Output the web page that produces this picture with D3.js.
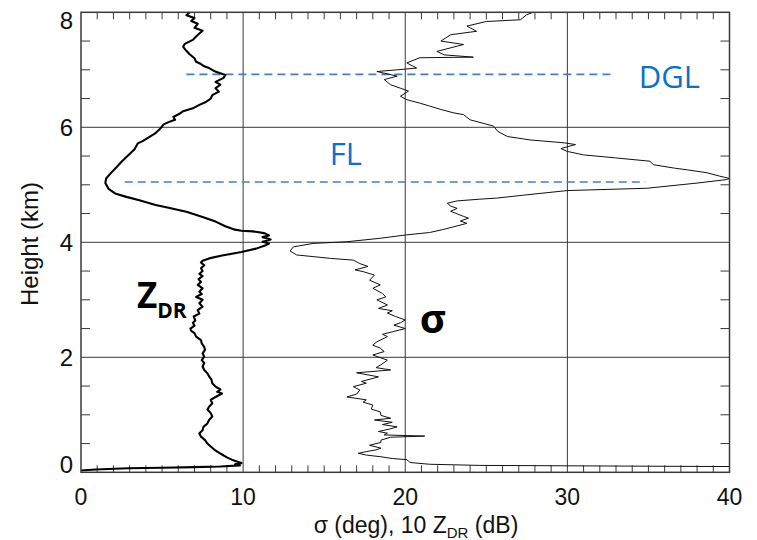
<!DOCTYPE html>
<html><head><meta charset="utf-8">
<script src="https://cdn.jsdelivr.net/npm/d3@7"></script>
<style>body{margin:0;background:#fff}</style>
</head><body>
<script>
// ---- data ----
const xTicks = [0, 10, 20, 30, 40];
const yTicks = [0, 2, 4, 6, 8];
// ZDR profile: [10*ZDR (dB), height (km)]
const zdrPoints = [
[0.0,0.03],[0.9,0.05],[2.9,0.07],[5.0,0.08],[7.0,0.09],[8.6,0.10],[9.8,0.12],[9.5,0.14],[9.9,0.16],[9.7,0.18],
[9.3,0.22],[9.0,0.26],[8.7,0.31],[8.4,0.36],[8.2,0.40],[8.0,0.45],[7.8,0.50],[7.65,0.56],[7.4,0.62],[7.3,0.68],
[7.5,0.73],[7.55,0.79],[7.8,0.85],[7.9,0.91],[8.1,0.97],[8.0,1.03],[7.8,1.09],[7.9,1.14],[8.1,1.20],[8.0,1.26],
[8.3,1.31],[8.7,1.37],[8.4,1.40],[8.6,1.44],[8.3,1.49],[8.1,1.55],[8.05,1.61],[7.9,1.67],[7.8,1.72],[7.6,1.78],
[7.5,1.84],[7.6,1.90],[7.45,1.95],[7.6,2.01],[7.5,2.07],[7.65,2.13],[7.6,2.18],[7.45,2.24],[7.4,2.30],[7.1,2.36],
[7.0,2.42],[6.8,2.46],[6.75,2.50],[7.0,2.55],[6.9,2.60],[7.05,2.64],[6.95,2.71],[7.3,2.76],[7.2,2.82],[7.5,2.88],
[7.3,2.94],[7.5,3.00],[7.1,3.05],[7.45,3.10],[7.3,3.14],[7.5,3.20],[7.2,3.26],[7.4,3.31],[7.25,3.36],[7.5,3.41],
[7.3,3.45],[7.5,3.50],[7.4,3.55],[7.6,3.60],[7.4,3.65],[7.5,3.68],[7.9,3.72],[8.7,3.77],[9.9,3.83],[10.8,3.89],
[11.4,3.95],[11.6,3.98],[11.2,4.01],[11.7,4.05],[11.2,4.09],[11.6,4.12],[11.3,4.16],[10.6,4.19],[9.9,4.20],[9.5,4.22],
[8.9,4.28],[8.3,4.36],[7.5,4.44],[6.5,4.53],[5.4,4.60],[4.6,4.65],[3.6,4.73],[2.8,4.79],[2.1,4.85],[1.7,4.93],
[1.5,5.03],[1.55,5.11],[1.8,5.19],[2.1,5.28],[2.5,5.40],[2.9,5.51],[3.3,5.62],[3.5,5.72],[3.8,5.76],[4.2,5.83],
[4.6,5.90],[4.9,5.98],[5.1,6.05],[5.4,6.09],[5.8,6.13],[5.7,6.18],[6.1,6.24],[6.3,6.28],[6.9,6.33],[7.3,6.39],
[7.7,6.44],[8.0,6.50],[8.1,6.56],[8.5,6.62],[8.3,6.68],[8.6,6.74],[8.3,6.79],[8.8,6.86],[8.9,6.91],[8.5,6.95],
[8.2,6.98],[7.9,7.03],[7.6,7.06],[7.4,7.10],[7.1,7.14],[7.0,7.20],[6.7,7.27],[6.5,7.33],[6.3,7.40],[6.4,7.45],
[6.9,7.52],[7.1,7.58],[7.3,7.63],[7.5,7.68],[7.0,7.73],[7.2,7.80],[6.8,7.85],[7.0,7.90],[6.5,7.95],[6.7,8.0]
];
// sigma profile: [sigma (deg), height (km)]
const sigmaPoints = [
[40,0.10],[32,0.11],[24.6,0.12],[21.5,0.14],[20.3,0.17],[20.1,0.22],[19.2,0.24],[18.5,0.27],[17.6,0.30],[17.1,0.33],
[17.6,0.36],[18.2,0.39],[18.5,0.42],[17.8,0.47],[18.5,0.52],[18.5,0.56],[19.1,0.61],[21.2,0.63],[18.7,0.65],[18.9,0.68],
[18.35,0.71],[19.0,0.75],[19.5,0.79],[18.6,0.83],[19.2,0.87],[18.1,0.91],[19.1,0.94],[18.5,0.99],[18.46,1.05],[17.9,1.10],
[18.0,1.17],[17.4,1.22],[17.6,1.26],[16.4,1.31],[17.0,1.36],[17.2,1.43],[16.8,1.49],[17.6,1.55],[17.3,1.58],[18.35,1.66],
[17.0,1.73],[19.1,1.78],[18.2,1.82],[18.5,1.87],[18.9,1.95],[18.0,2.04],[18.7,2.10],[18.46,2.16],[18.0,2.21],[18.25,2.27],
[18.9,2.36],[18.6,2.40],[19.3,2.45],[20.0,2.50],[19.3,2.56],[19.7,2.60],[20.0,2.65],[19.4,2.71],[18.9,2.77],[19.2,2.81],
[18.35,2.85],[18.9,2.91],[18.25,3.00],[18.8,3.05],[18.6,3.11],[18.0,3.20],[18.46,3.26],[17.8,3.34],[18.1,3.43],[17.4,3.49],
[16.9,3.52],[17.7,3.58],[17.2,3.63],[16.8,3.69],[15.4,3.72],[13.3,3.78],[12.9,3.85],[13.1,3.92],[14.3,3.98],[16.4,4.01],
[18.46,4.07],[20.1,4.13],[21.5,4.17],[22.3,4.22],[23.0,4.27],[23.8,4.33],[23.4,4.37],[23.9,4.42],[23.6,4.45],[22.8,4.54],
[23.2,4.59],[22.8,4.63],[22.6,4.68],[23.2,4.72],[24.6,4.75],[25.7,4.77],[27.3,4.82],[30.0,4.90],[34.9,4.94],[38.0,5.03],
[39.8,5.09],[40,5.11],[39.4,5.15],[38.6,5.21],[37.4,5.26],[36.6,5.29],[35.3,5.35],[35.1,5.41],[32.9,5.47],[31.0,5.52],
[30.0,5.58],[29.6,5.63],[30.5,5.70],[29.8,5.73],[27.7,5.78],[26.3,5.84],[25.7,5.93],[25.45,6.02],[24.8,6.07],[24.0,6.13],
[23.6,6.22],[23.0,6.25],[22.2,6.31],[21.5,6.37],[20.9,6.42],[20.1,6.48],[19.7,6.54],[20.2,6.63],[19.7,6.68],[19.1,6.74],
[18.7,6.83],[19.5,6.89],[18.25,6.97],[19.5,7.00],[20.7,7.03],[20.1,7.12],[20.9,7.21],[24.2,7.22],[22.4,7.26],[21.95,7.32],
[23.6,7.44],[22.2,7.50],[22.8,7.61],[24.4,7.67],[23.8,7.76],[25.0,7.84],[27.1,7.87],[27.5,7.96],[27.9,8.0]
];
// reference levels
const levelNames = ["DGL", "FL"];
const levelHeights = [6.92, 5.05];
const levelStart = [6.5, 2.7];
const levelEnd = [32.8, 34.8];

// ---- layout ----
const W = 757, H = 540;
const svg = d3.select("body").append("svg").attr("width", W).attr("height", H);
svg.append("rect").attr("width", W).attr("height", H).attr("fill", "#fff");
const x = d3.scaleLinear().domain([0, 40]).range([81, 729.5]);
const y = d3.scaleLinear().domain([0, 8]).range([472.3, 12.3]);
const axisColor = "#3a3a3a";

// gridlines at major ticks
const g = svg.append("g");
g.selectAll(".gx").data(xTicks.slice(1, -1)).join("line")
  .attr("x1", d => x(d)).attr("x2", d => x(d)).attr("y1", y(0)).attr("y2", y(8))
  .attr("stroke", axisColor).attr("stroke-width", 1);
g.selectAll(".gy").data(yTicks.slice(1, -1)).join("line")
  .attr("y1", d => y(d)).attr("y2", d => y(d)).attr("x1", x(0)).attr("x2", x(40))
  .attr("stroke", axisColor).attr("stroke-width", 1);

// minor ticks
const xMinor = d3.range(1, 40).filter(v => v % 10 !== 0);
const yMinor = d3.range(0.5, 8, 0.5).filter(v => v % 2 !== 0);
g.selectAll(".tb").data(xMinor).join("line")
  .attr("x1", d => x(d)).attr("x2", d => x(d)).attr("y1", y(0)).attr("y2", y(0) - 7)
  .attr("stroke", axisColor).attr("stroke-width", 1);
g.selectAll(".tt").data(xMinor).join("line")
  .attr("x1", d => x(d)).attr("x2", d => x(d)).attr("y1", y(8)).attr("y2", y(8) + 7)
  .attr("stroke", axisColor).attr("stroke-width", 1);
g.selectAll(".tl").data(yMinor).join("line")
  .attr("y1", d => y(d)).attr("y2", d => y(d)).attr("x1", x(0)).attr("x2", x(0) + 9)
  .attr("stroke", axisColor).attr("stroke-width", 1);
g.selectAll(".tr").data(yMinor).join("line")
  .attr("y1", d => y(d)).attr("y2", d => y(d)).attr("x1", x(40)).attr("x2", x(40) - 9)
  .attr("stroke", axisColor).attr("stroke-width", 1);

// dashed reference lines
g.selectAll(".lev").data(levelHeights).join("line")
  .attr("x1", (d, i) => x(levelStart[i])).attr("x2", (d, i) => x(levelEnd[i]))
  .attr("y1", d => y(d)).attr("y2", d => y(d))
  .attr("stroke", "#4a7cc7").attr("stroke-width", 1.6).attr("stroke-dasharray", "8,5");

// profiles
const line = d3.line().x(d => x(d[0])).y(d => y(d[1]));
svg.append("path").datum(sigmaPoints).attr("d", line)
  .attr("fill", "none").attr("stroke", "#111").attr("stroke-width", 1);
svg.append("path").datum(zdrPoints).attr("d", line)
  .attr("fill", "none").attr("stroke", "#000").attr("stroke-width", 2.1).attr("stroke-linejoin", "round");

// frame
svg.append("rect").attr("x", x(0)).attr("y", y(8)).attr("width", x(40) - x(0)).attr("height", y(0) - y(8))
  .attr("fill", "none").attr("stroke", axisColor).attr("stroke-width", 1.5);

// tick labels
const tickFont = "'Liberation Sans', Arial, Helvetica, sans-serif";
svg.selectAll(".xl").data(xTicks).join("text")
  .attr("x", d => x(d)).attr("y", 505).attr("text-anchor", "middle")
  .attr("font-family", tickFont).attr("font-size", 23).attr("fill", "#111").text(d => d);
svg.selectAll(".yl").data(yTicks).join("text")
  .attr("x", 73).attr("y", d => y(d) + 9 + (d === 8 ? 8 : 0) - (d === 0 ? 8 : 0)).attr("text-anchor", "end")
  .attr("font-family", tickFont).attr("font-size", 24).attr("fill", "#111").text(d => d);

// axis titles
const xt = svg.append("text").attr("x", 416).attr("y", 533).attr("text-anchor", "middle")
  .attr("font-family", tickFont).attr("font-size", 23).attr("fill", "#111");
xt.append("tspan").text("σ (deg), 10 Z");
xt.append("tspan").attr("font-size", 15).attr("dy", 5).text("DR");
xt.append("tspan").attr("dy", -5).text(" (dB)");
svg.append("text").attr("transform", "translate(38,244) rotate(-90)").attr("text-anchor", "middle")
  .attr("font-family", tickFont).attr("font-size", 24).attr("fill", "#111").text("Height (km)");

// annotations
const annFont = "'Open Sans', 'Noto Sans', sans-serif";
const zl = svg.append("text").attr("x", x(3.45)).attr("y", y(2.85))
  .attr("font-family", annFont).attr("font-weight", "bold").attr("font-size", 35).attr("fill", "#000");
zl.append("tspan").text("Z");
zl.append("tspan").attr("font-size", 21).attr("dy", 10).text("DR");
svg.append("text").attr("x", x(20.9)).attr("y", y(2.42))
  .attr("font-family", annFont).attr("font-weight", "bold").attr("font-size", 40).attr("fill", "#000").text("σ");
svg.append("text").attr("x", x(15.35)).attr("y", y(5.35))
  .attr("font-family", annFont).attr("font-size", 31).attr("fill", "#0b72c3").text(levelNames[1]);
svg.append("text").attr("x", x(34.4)).attr("y", y(6.68))
  .attr("font-family", annFont).attr("font-size", 31).attr("fill", "#0b72c3").text(levelNames[0]);
</script>
</body></html>
